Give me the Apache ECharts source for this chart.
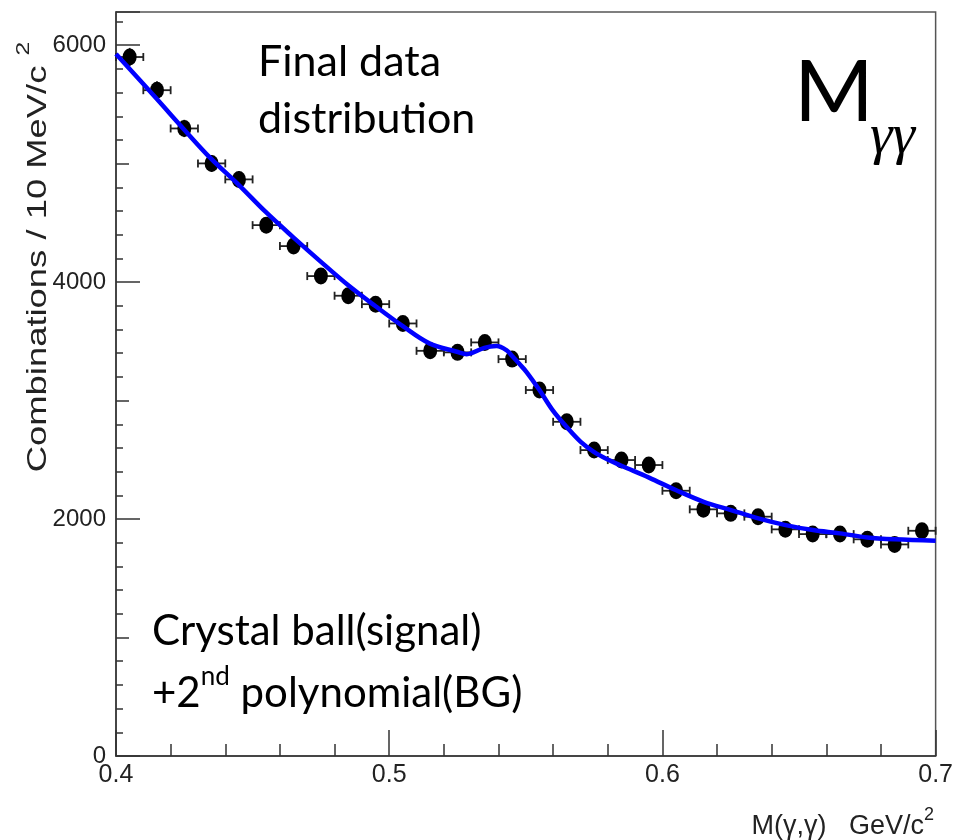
<!DOCTYPE html>
<html>
<head>
<meta charset="utf-8">
<script src="https://cdn.jsdelivr.net/npm/echarts@6/dist/echarts.min.js"></script>
<style>
html,body{margin:0;padding:0;background:#fff;}
#chart{width:956px;height:840px;}
</style>
</head>
<body>
<div id="chart"></div>
<script>
// ---- data ----
var binCenters = [0.405,0.415,0.425,0.435,0.445,0.455,0.465,0.475,0.485,0.495,
                  0.505,0.515,0.525,0.535,0.545,0.555,0.565,0.575,0.585,0.595,
                  0.605,0.615,0.625,0.635,0.645,0.655,0.665,0.675,0.685,0.695];
var counts = [5900,5620,5297,5002,4867,4481,4304,4051,3885,3814,
              3651,3420,3407,3491,3350,3089,2821,2582,2498,2456,
              2239,2082,2048,2020,1913,1873,1873,1829,1786,1901];
var countErrors = [77,75,73,71,70,67,66,64,62,62,
                   60,58,58,59,58,56,53,51,50,50,
                   47,46,45,45,44,43,43,43,42,44];
var binHalfWidth = 0.005;
var fitX = [0.400,0.4148,0.4249,0.4347,0.4450,0.4547,0.4647,0.4747,0.4849,0.4949,
            0.5051,0.5147,0.5248,0.5284,0.5348,0.5393,0.5429,0.5450,0.5477,0.5502,
            0.5550,0.5598,0.5649,0.5701,0.5749,0.5804,0.5850,0.5951,0.6049,0.6151,
            0.6251,0.6351,0.6451,0.6551,0.6650,0.6750,0.6850,0.7000];
var fitY = [5925,5550,5289,5044,4819,4594,4382,4177,3975,3798,
            3626,3483,3412,3392,3445,3460,3426,3376,3308,3243,
            3089,2920,2779,2652,2568,2498,2450,2350,2245,2146,
            2076,2006,1949,1907,1879,1845,1829,1817];
var xTickLabels = ['0.4','0.5','0.6','0.7'];
var yTickLabels = ['0','2000','4000','6000'];

var chart = echarts.init(document.getElementById('chart'), null, {renderer:'canvas'});

var points = binCenters.map(function(x,i){ return [x, counts[i]]; });
var errRows = binCenters.map(function(x,i){ return [x, counts[i], countErrors[i]]; });
var fitData = fitX.map(function(x,i){ return [x, fitY[i]]; });

var tickFont = '"Liberation Sans", Arial, sans-serif';
var axisCol = '#333';
var lblFont = 'Lato, "Open Sans", sans-serif';

function baseX(extra){
  return Object.assign({
    type:'value', min:0.4, max:0.7, position:'bottom', gridIndex:0,
    splitLine:{show:false},
    axisLine:{show:false},
    axisTick:{show:true, inside:true, lineStyle:{color:axisCol, width:1.5}},
    axisLabel:{show:false}
  }, extra);
}
function baseY(extra){
  return Object.assign({
    type:'value', min:0, max:6280, position:'left', gridIndex:0,
    splitLine:{show:false},
    axisLine:{show:false},
    axisTick:{show:true, inside:true, lineStyle:{color:axisCol, width:1.5}},
    axisLabel:{show:false}
  }, extra);
}

var option = {
  animation:false,
  backgroundColor:'#fff',
  grid:{left:116, right:13, top:12, bottom:84, show:true, borderColor:'#555', borderWidth:1.5, backgroundColor:'transparent'},
  xAxis:[
    baseX({interval:0.1,
      axisLine:{show:true, lineStyle:{color:axisCol, width:1.5}},
      axisTick:{show:true, inside:true, length:26, lineStyle:{color:axisCol, width:1.5}},
      axisLabel:{show:true, margin:7, fontSize:25, color:'#222', fontFamily:tickFont,
        formatter:function(v){ var s=v.toFixed(1); return xTickLabels.indexOf(s)>=0 ? s : ''; }}
    }),
    baseX({interval:0.02, axisTick:{show:true, inside:true, length:12, lineStyle:{color:axisCol, width:1.5}}})
  ],
  yAxis:[
    baseY({interval:2000,
      axisLine:{show:true, lineStyle:{color:axisCol, width:1.5}},
      axisTick:{show:true, inside:true, length:24, lineStyle:{color:axisCol, width:1.5}},
      axisLabel:{show:true, margin:10, fontSize:24, color:'#222', fontFamily:tickFont,
        formatter:function(v){ var s=String(Math.round(v)); return yTickLabels.indexOf(s)>=0 ? s : ''; }}
    }),
    baseY({interval:1000, axisTick:{show:true, inside:true, length:13, lineStyle:{color:axisCol, width:1.5}}}),
    baseY({interval:200, axisTick:{show:true, inside:true, length:7, lineStyle:{color:axisCol, width:1.5}}})
  ],
  series:[
    {
      type:'custom', xAxisIndex:0, yAxisIndex:0, z:2,
      data:errRows,
      renderItem:function(params, api){
        var x = api.value(0), y = api.value(1), e = api.value(2);
        var l = api.coord([x-binHalfWidth, y]);
        var r = api.coord([x+binHalfWidth, y]);
        var t = api.coord([x, y+e]);
        var b = api.coord([x, y-e]);
        var st = {stroke:'#222', lineWidth:1.8};
        var cap = 4;
        return {type:'group', children:[
          {type:'line', shape:{x1:l[0], y1:l[1], x2:r[0], y2:r[1]}, style:st},
          {type:'line', shape:{x1:l[0], y1:l[1]-cap, x2:l[0], y2:l[1]+cap}, style:st},
          {type:'line', shape:{x1:r[0], y1:r[1]-cap, x2:r[0], y2:r[1]+cap}, style:st},
          {type:'line', shape:{x1:t[0], y1:t[1], x2:b[0], y2:b[1]}, style:st}
        ]};
      }
    },
    {
      type:'scatter', xAxisIndex:0, yAxisIndex:0, z:3,
      data:points, symbol:'circle', symbolSize:[14,17],
      itemStyle:{color:'#000', opacity:1}
    },
    {
      type:'line', xAxisIndex:0, yAxisIndex:0, z:5,
      data:fitData, smooth:0.35, showSymbol:false,
      lineStyle:{color:'#0000ff', width:4.5}
    }
  ],
  graphic:[
    {type:'text', left:258, top:41, z:10,
      style:{text:'Final data', font:'43px '+lblFont, fill:'#000'}},
    {type:'text', left:258, top:98, z:10,
      style:{text:'distribution', font:'43px '+lblFont, fill:'#000'}},
    {type:'text', left:152, top:610, z:10,
      style:{text:'Crystal ball(signal)', font:'42px '+lblFont, fill:'#000'}},
    {type:'text', x:152, y:664, z:10,
      style:{
        text:'{a|+2}{s|nd}{a| polynomial(BG)}',
        rich:{
          a:{fontSize:42, fontFamily:lblFont, fill:'#000', color:'#000', lineHeight:50, verticalAlign:'bottom'},
          s:{fontSize:26, fontFamily:lblFont, fill:'#000', color:'#000', lineHeight:26, verticalAlign:'top'}
        }
      }},
    {type:'text', x:794, y:50, z:10,
      style:{text:'M', font:'86px '+lblFont, fill:'#000'}},
    {type:'text', x:870, y:110, z:10,
      style:{text:'γγ', font:'italic 57px "Liberation Serif", "DejaVu Serif", serif', fill:'#000'}},
    {type:'text', x:33, y:257, rotation:Math.PI/2, scaleX:1.3, z:10,
      style:{
        text:'{a|Combinations / 10 MeV/c }{s|2}',
        align:'center', verticalAlign:'middle',
        rich:{
          a:{fontSize:28, fontFamily:tickFont, fill:'#222', color:'#222', lineHeight:38, verticalAlign:'bottom'},
          s:{fontSize:19, fontFamily:tickFont, fill:'#222', color:'#222', lineHeight:19, verticalAlign:'top'}
        }
      }},
    {type:'text', x:934, y:840, z:10,
      style:{
        text:'{a|M(γ,γ)   GeV/c}{s|2}',
        align:'right', verticalAlign:'bottom',
        rich:{
          a:{fontSize:27, fontFamily:tickFont, fill:'#222', color:'#222', lineHeight:34, verticalAlign:'bottom'},
          s:{fontSize:18, fontFamily:tickFont, fill:'#222', color:'#222', lineHeight:18, verticalAlign:'top'}
        }
      }}
  ]
};
chart.setOption(option);
</script>
</body>
</html>
